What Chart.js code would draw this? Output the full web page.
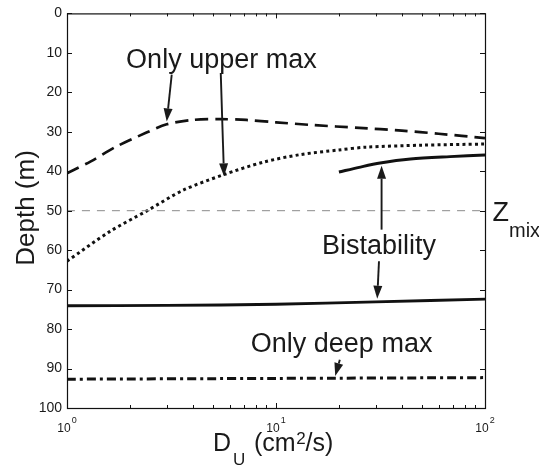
<!DOCTYPE html>
<html>
<head>
<meta charset="utf-8">
<script src="https://cdn.jsdelivr.net/npm/chart.js@4/dist/chart.umd.min.js"></script>
<style>
  body { margin: 0; background: #fff; }
  canvas { display: block; }
</style>
</head>
<body>
<canvas id="chart" width="539" height="470"></canvas>
<script>
// D_U (cm2/s) on x, depth (m) on y
const upperX = [1, 1.3, 1.7, 2.4, 3, 4, 5.4, 7.2, 10, 15, 25, 40, 60, 100];
const upperY = [40.5, 37.5, 33.9, 30.2, 28.1, 27.0, 26.8, 27.0, 27.6, 28.3, 29.0, 29.7, 30.5, 31.6];

const dottedX = [1, 1.6, 2.4, 3.6, 5.6, 8.7, 13, 20, 27, 50, 100];
const dottedY = [62.8, 55.3, 50.1, 44.8, 40.9, 37.7, 35.8, 34.6, 33.9, 33.4, 33.1];

const bistX = [20, 25, 31.5, 44, 68, 100];
const bistY = [40.2, 39.0, 37.9, 36.9, 36.3, 35.9];

const lowX = [1, 3, 10, 30, 100];
const lowY = [74.1, 74.0, 73.7, 73.1, 72.4];

const deepX = [1, 10, 100];
const deepY = [92.7, 92.5, 92.3];

const zmixX = [1, 100];
const zmixY = [50, 50];

const yTickValues = [0, 10, 20, 30, 40, 50, 60, 70, 80, 90, 100];
const xMinorValues = [2, 3, 4, 5, 6, 7, 8, 9, 20, 30, 40, 50, 60, 70, 80, 90];
const xMajorValues = [1, 10, 100];

// text notes and arrows, in data coords
const notes = [
  { text: 'Only upper max', x: 5.48, y: 13.8 },
  { text: 'Bistability', x: 31.1, y: 61 },
  { text: 'Only deep max', x: 20.6, y: 85.9 }
];
const arrows = [
  [3.17, 15.5, 3.0, 27.4],
  [5.44, 15.1, 5.64, 41.3],
  [32.0, 54.8, 32.0, 38.6],
  [31.1, 62.8, 30.5, 72.3],
  [20.2, 87.8, 19.2, 91.9]
];

const FONT = '"Liberation Sans", Arial, Helvetica, sans-serif';
const INK = '#1a1a1a';

function pts(xs, ys) {
  return xs.map((x, i) => ({ x: x, y: ys[i] }));
}

function line(xs, ys, dash, width, color) {
  return {
    data: pts(xs, ys),
    showLine: true,
    pointRadius: 0,
    borderColor: color || '#111',
    borderWidth: width,
    borderDash: dash,
    borderCapStyle: 'butt',
    tension: 0.3,
    fill: false
  };
}

function arrow(ctx, x0, y0, x1, y1) {
  const ang = Math.atan2(y1 - y0, x1 - x0);
  const len = 13, hw = 4.5;
  const bx = x1 - len * Math.cos(ang), by = y1 - len * Math.sin(ang);
  ctx.beginPath();
  ctx.moveTo(x0, y0);
  ctx.lineTo(bx, by);
  ctx.lineWidth = 1.9;
  ctx.stroke();
  ctx.beginPath();
  ctx.moveTo(x1, y1);
  ctx.lineTo(bx + hw * Math.sin(ang), by - hw * Math.cos(ang));
  ctx.lineTo(bx - hw * Math.sin(ang), by + hw * Math.cos(ang));
  ctx.closePath();
  ctx.fill();
}

const overlay = {
  id: 'overlay',
  afterDraw(chart) {
    const ctx = chart.ctx, a = chart.chartArea;
    const xs = chart.scales.x, ys = chart.scales.y;
    ctx.save();
    ctx.strokeStyle = '#111';
    ctx.fillStyle = INK;

    // box + inward ticks
    ctx.lineWidth = 1.2;
    ctx.strokeRect(a.left + 0.5, a.top + 0.5, a.right - a.left, a.bottom - a.top);
    ctx.lineWidth = 1;
    ctx.beginPath();
    yTickValues.forEach(v => {
      const py = Math.round(ys.getPixelForValue(v)) + 0.5;
      ctx.moveTo(a.left, py); ctx.lineTo(a.left + 5, py);
      ctx.moveTo(a.right, py); ctx.lineTo(a.right - 5, py);
    });
    xMinorValues.concat(xMajorValues).forEach(v => {
      const px = Math.round(xs.getPixelForValue(v)) + 0.5;
      const len = xMajorValues.includes(v) ? 5 : 3;
      ctx.moveTo(px, a.bottom); ctx.lineTo(px, a.bottom - len);
      ctx.moveTo(px, a.top); ctx.lineTo(px, a.top + len);
    });
    ctx.stroke();

    // x tick labels 10^n
    xMajorValues.forEach(v => {
      const px = xs.getPixelForValue(v);
      const exp = String(Math.round(Math.log10(v)));
      ctx.font = '12px ' + FONT;
      const wb = ctx.measureText('10').width;
      ctx.font = '9px ' + FONT;
      const we = ctx.measureText(exp).width;
      const x0 = px - (wb + we + 1) / 2;
      ctx.textAlign = 'left';
      ctx.textBaseline = 'alphabetic';
      ctx.font = '12px ' + FONT;
      ctx.fillText('10', x0, 431.5);
      ctx.font = '9px ' + FONT;
      ctx.fillText(exp, x0 + wb + 1, 423);
    });

    // axis titles
    ctx.save();
    ctx.translate(33.5, 208);
    ctx.rotate(-Math.PI / 2);
    ctx.textAlign = 'center';
    ctx.font = '26px ' + FONT;
    ctx.fillText('Depth (m)', 0, 0);
    ctx.restore();

    ctx.textAlign = 'left';
    ctx.font = '25px ' + FONT;
    ctx.fillText('D', 213, 450.7);
    ctx.font = '17px ' + FONT;
    ctx.fillText('U', 233, 465);
    let cx = 254;
    ctx.font = '25px ' + FONT;
    ctx.fillText('(cm', cx, 450.7);
    cx += ctx.measureText('(cm').width + 0.5;
    ctx.font = '17px ' + FONT;
    ctx.fillText('2', cx, 443.5);
    cx += ctx.measureText('2').width;
    ctx.font = '25px ' + FONT;
    ctx.fillText('/s)', cx, 450.7);

    // Z_mix label
    ctx.font = '27px ' + FONT;
    ctx.fillText('Z', 492.5, 221);
    ctx.font = '20px ' + FONT;
    ctx.fillText('mix', 509, 237);

    // notes and arrows
    ctx.textAlign = 'center';
    ctx.font = '27px ' + FONT;
    notes.forEach(n => {
      ctx.fillText(n.text, xs.getPixelForValue(n.x), ys.getPixelForValue(n.y));
    });
    ctx.strokeStyle = INK;
    arrows.forEach(r => {
      arrow(ctx, xs.getPixelForValue(r[0]), ys.getPixelForValue(r[1]),
        xs.getPixelForValue(r[2]), ys.getPixelForValue(r[3]));
    });
    ctx.restore();
  }
};

new Chart(document.getElementById('chart'), {
  type: 'scatter',
  data: {
    datasets: [
      line(zmixX, zmixY, [8, 7], 1, '#8a8a8a'),
      line(upperX, upperY, [13, 7], 2.7),
      line(dottedX, dottedY, [3, 3.2], 3),
      line(bistX, bistY, [], 2.9),
      line(lowX, lowY, [], 2.9),
      line(deepX, deepY, [9, 4, 3, 4], 3)
    ]
  },
  options: {
    responsive: false,
    animation: false,
    devicePixelRatio: 1,
    layout: { padding: { top: 10, right: 54, left: 0, bottom: 0 } },
    plugins: { legend: { display: false }, tooltip: { enabled: false } },
    scales: {
      x: {
        type: 'logarithmic',
        min: 1,
        max: 100,
        grid: { display: false, drawTicks: false },
        border: { display: false },
        ticks: { display: false },
        afterFit(s) { s.height = 62; }
      },
      y: {
        min: 0,
        max: 100,
        reverse: true,
        grid: { display: false, drawTicks: false },
        border: { display: false },
        ticks: { stepSize: 10, padding: 5, color: INK, font: { size: 14, family: FONT } },
        afterFit(s) { s.width = 67; }
      }
    }
  },
  plugins: [overlay]
});
</script>
</body>
</html>
